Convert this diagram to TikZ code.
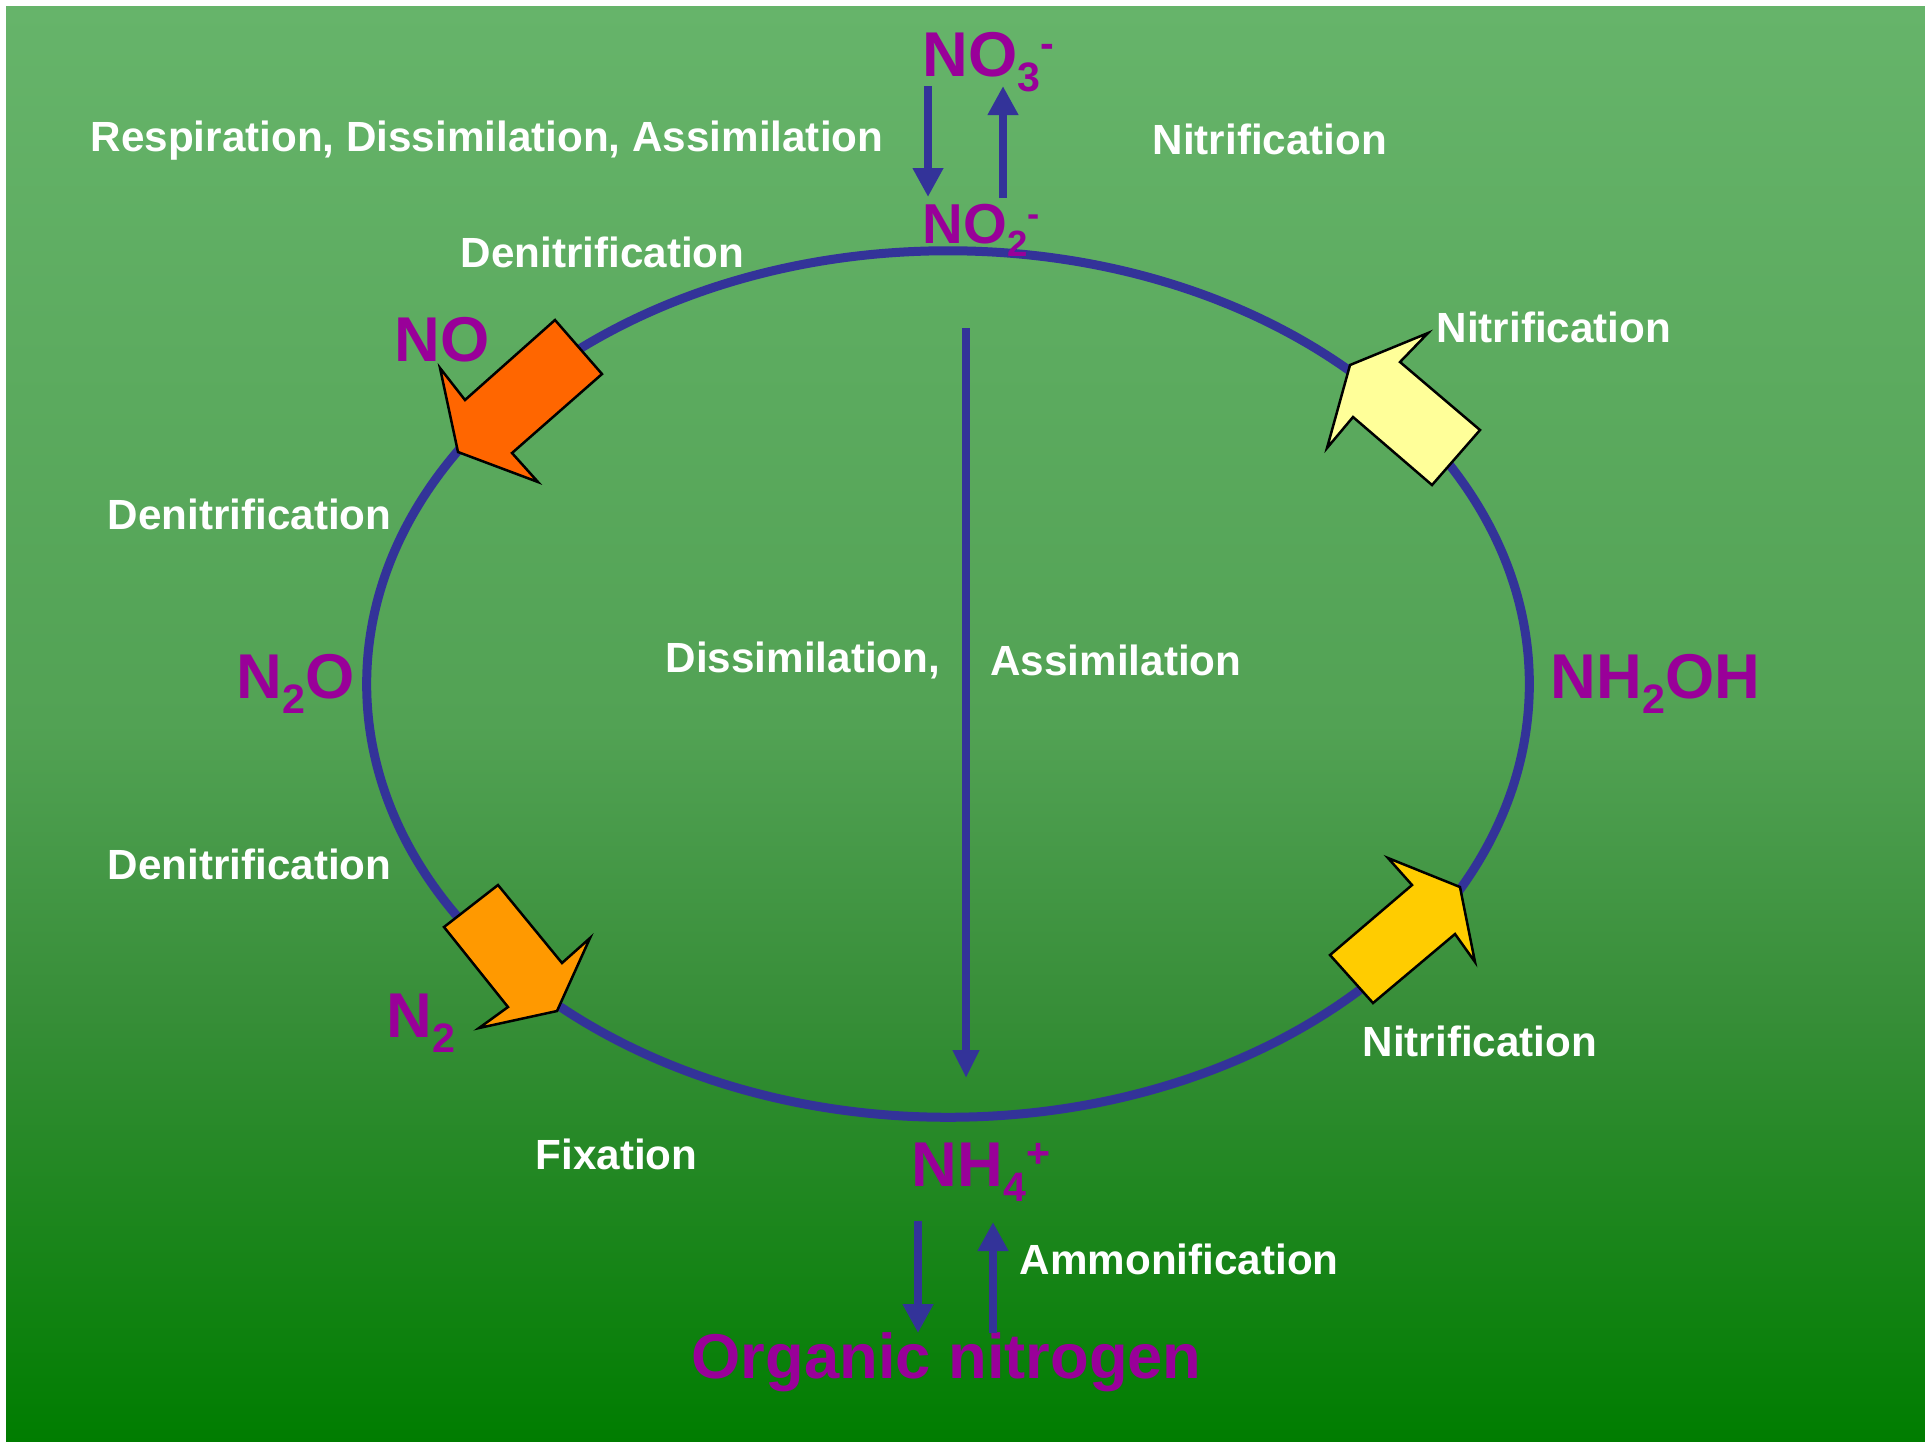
\documentclass[tikz,border=0pt]{standalone}
\usepackage{fontspec}
\setmainfont{Liberation Sans}
\usepackage{graphicx}
\usetikzlibrary{arrows.meta,positioning}
\definecolor{greentop}{RGB}{102,180,106}
\definecolor{greenmid}{RGB}{82,162,84}
\definecolor{greenlow}{RGB}{55,142,56}
\definecolor{greenbot}{RGB}{0,125,0}
\definecolor{cyclenavy}{RGB}{51,51,153}
\definecolor{chempurple}{RGB}{153,0,153}
\definecolor{nored}{RGB}{255,102,0}
\definecolor{nnorange}{RGB}{255,153,0}
\definecolor{paleyellow}{RGB}{255,255,153}
\definecolor{goldyellow}{RGB}{255,204,0}
\pgfdeclareverticalshading{bggreen}{100bp}{color(0bp)=(greenbot); color(25bp)=(greenbot); color(40bp)=(greenlow); color(50bp)=(greenmid); color(75bp)=(greentop); color(100bp)=(greentop)}
\newcommand{\chsub}[1]{\raisebox{-0.24em}{\scalebox{0.65}{#1}}}
\newcommand{\chsup}[1]{\raisebox{0.3em}{\scalebox{0.65}{#1}}}
\tikzset{>={Triangle[width=0.29cm,length=0.29cm]}, % big filled heads
every node/.style={inner sep=0pt}, % text sits right on its anchor
process/.style={text=white, anchor=west, font=\fontsize{12}{14}\selectfont\bfseries}, % white step names
species/.style={text=chempurple, anchor=base west, font=\fontsize{18}{20}\selectfont\bfseries}, % purple compounds
flow/.style={->, draw=cyclenavy, line width=0.085cm}, % navy arrows
cycle/.style={draw=cyclenavy, line width=0.09cm}, % the ring
blockarrow/.style={draw=black, line width=0.025cm, line join=miter}, % fat coloured arrows
}
\begin{document}
\begin{tikzpicture}[x=0.01cm, y=-0.01cm]
\useasboundingbox (0,0) rectangle (1925,1441);
\fill[white] (0,0) rectangle (1925,1441);
\shade[shading=bggreen] (6,6) rectangle (1925,1441);
\draw[cycle] (948,684) ellipse [x radius=5.81cm, y radius=4.33cm];
\draw[blockarrow, fill=nored] (458,452) -- (440,368) -- (465,400) -- (555,320) -- (602,374) -- (512,453) -- (538,482) -- cycle;
\draw[blockarrow, fill=paleyellow] (1350,365) -- (1428,333) -- (1400,362) -- (1480,430) -- (1432,485) -- (1353,417) -- (1327,448) -- cycle;
\draw[blockarrow, fill=nnorange] (557,1011) -- (590,938) -- (562,963) -- (498,885) -- (444,927) -- (508,1007) -- (479,1028) -- cycle;
\draw[blockarrow, fill=goldyellow] (1460,887) -- (1388,858) -- (1412,885) -- (1330,955) -- (1373,1003) -- (1455,934) -- (1475,962) -- cycle;
\node[species] (no3) at (922,76) {NO\chsub{3}\chsup{-}};
\node[species, font=\fontsize{16}{18}\selectfont\bfseries] (no2) at (922,243) {NO\chsub{2}\chsup{-}};
\node[species] (no) at (394,361) {NO};
\node[species] (n2o) at (236,698) {N\chsub{2}O};
\node[species] (nh2oh) at (1550,698) {NH\chsub{2}OH};
\node[species] (n2) at (386,1037) {N\chsub{2}};
\node[species] (nh4) at (911,1186) {NH\chsub{4}\chsup{+}};
\node[species] (orgn) at (691,1378) {Organic nitrogen};
\node[process] (resp) at (90,141) {Respiration, Dissimilation, Assimilation};
\node[process] (nitrtop) at (1152,139) {Nitrification};
\node[process] (denittop) at (460,252) {Denitrification};
\node[process] (nitrup) at (1436,327) {Nitrification};
\node[process] (denitup) at (107,514) {Denitrification};
\node[process] (diss) at (665,660) {Dissimilation,};
\node[process, right=0.49cm of diss] (assim) {Assimilation};
\node[process] (denitlow) at (107,864) {Denitrification};
\node[process] (nitrlow) at (1362,1041) {Nitrification};
\node[process] (fix) at (535,1154) {Fixation};
\node[process, anchor=base west] (ammon) at (1019,1274) {Ammonification};
\coordinate (no3out) at (928,86);
\coordinate (no2in) at (928,197);
\coordinate (no2out) at (1003,198);
\coordinate (no3in) at (1003,86);
\coordinate (topmid) at (966,328);
\coordinate (botmid) at (966,1078);
\coordinate (nh4out) at (918,1221);
\coordinate (orgin) at (918,1333);
\coordinate (orgout) at (993,1333);
\coordinate (nh4in) at (993,1222);
\draw[flow] (no3out) -- (no2in);
\draw[flow] (no2out) -- (no3in);
\draw[flow, -{Triangle[width=0.25cm,length=0.28cm]}] (topmid) -- (botmid);
\draw[flow] (nh4out) -- (orgin);
\draw[flow] (orgout) -- (nh4in);
\end{tikzpicture}
\end{document}
